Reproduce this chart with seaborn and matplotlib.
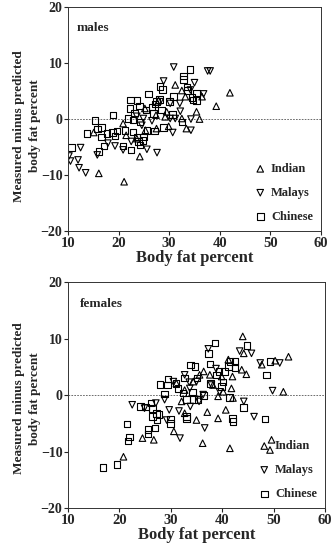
import matplotlib
matplotlib.use("Agg")
import matplotlib.pyplot as plt
import pandas as pd
import seaborn as sns

# ==========================================
# DATA
# ==========================================
male_indian_x = [15.1, 16.1, 21.1, 20.9, 24.2, 25.2, 25.3, 27.5, 29.5, 29.9, 31.2, 32.5, 33.2,
                 33.4, 35.4, 36.0, 36.5, 39.3, 42.0, 27.4, 27.9, 29.2, 23.6, 21.5, 32.5]
male_indian_y = [-2.4, -9.7, -11.2, -0.8, -6.7, 1.9, -2.0, -1.7, 1.3, -1.3, 6.1, 5.1, 4.0,
                 -1.7, 1.3, 0.0, 4.0, 2.3, 4.7, 0.7, 3.3, 0.4, -3.5, -2.9, 0.1]

male_malay_x = [10.2, 10.5, 12.5, 12.0, 12.2, 13.5, 15.8, 17.9, 19.3, 20.9, 22.5, 25.6, 27.6,
                28.9, 30.9, 30.7, 32.2, 32.1, 34.3, 34.3, 35.0, 36.8, 37.6, 38.1, 34.2, 28.2,
                30.2, 24.9, 26.6, 23.6, 24.6, 31.2, 30.2]
male_malay_y = [-6.6, -7.5, -5.1, -7.3, -8.7, -9.6, -6.4, -4.3, -4.8, -5.5, -4.0, -5.4, -6.0,
                6.8, 9.3, -2.4, 1.4, 2.8, -2.0, 0.0, 6.5, 4.5, 8.6, 8.6, 5.2, 3.1,
                2.8, 0.1, -0.3, 0.5, -1.1, 0.1, 0.1]

male_chinese_x = [10.7, 13.8, 15.3, 15.8, 16.1, 16.6, 16.6, 17.1, 17.7, 18.8, 18.9, 19.3, 19.7,
                  20.9, 21.3, 21.9, 22.3, 22.4, 22.5, 22.9, 23.2, 23.6, 24.1, 24.2, 25.4, 25.9,
                  26.6, 26.9, 27.1, 27.2, 27.5, 28.1, 28.2, 28.7, 28.5, 28.9, 30.1, 30.7, 30.9,
                  32.5, 32.8, 32.8, 33.5, 33.6, 34.1, 34.5, 34.7, 35.4, 35.4, 22.9, 23.6, 23.9,
                  24.2, 24.8, 24.9, 25.6]
male_chinese_y = [-5.1, -2.6, -0.3, -1.8, -5.8, -1.5, -3.2, -4.8, -2.6, -2.4, 0.7, -3.0, -2.1,
                  -4.8, -2.0, 0.1, 1.9, 3.4, -5.5, -0.2, 1.1, 3.3, 2.3, -0.5, 1.6, 4.5,
                  2.2, 1.0, -2.1, 2.7, 3.1, 3.5, 5.8, 5.3, 1.6, -1.5, 3.1, 0.8, 4.0,
                  -0.5, 7.7, 7.1, 5.7, 5.1, 8.9, 3.9, 3.4, 4.7, 3.3, -2.3, -3.2, -4.0,
                  -4.6, -3.8, -3.2, -2.0]

female_indian_x = [20.8, 24.5, 26.7, 30.6, 32.7, 32.7, 35.0, 36.2, 37.1, 36.4, 37.6, 39.2, 39.2,
                   39.9, 40.2, 40.7, 41.2, 41.5, 41.8, 42.0, 43.8, 44.0, 44.7, 44.2, 47.7, 49.3,
                   49.6, 50.3, 51.9, 52.9, 38.2, 42.1, 34.4, 32.1, 31.1, 35.6]
female_indian_y = [-10.9, -7.6, -7.9, -6.4, -3.2, 0.9, -4.4, -8.5, -3.0, 4.2, 3.6, -4.1, -0.2,
                   3.3, 0.6, -2.6, 6.3, -9.4, 1.2, 3.3, 4.5, 10.4, 3.7, 7.4, 5.4, -9.7,
                   -7.9, 6.1, 0.6, 6.8, 1.8, -0.5, 2.4, -1.1, 2.1, 3.6]

female_malay_x = [22.5, 24.9, 27.1, 28.8, 29.2, 29.7, 30.5, 31.6, 31.8, 32.7, 33.6, 33.8, 35.5,
                  36.6, 37.3, 37.9, 38.8, 39.5, 43.4, 44.2, 45.7, 46.2, 47.4, 51.2, 49.8, 33.7,
                  35.0, 36.3]
female_malay_y = [-1.7, -2.3, -1.4, -0.8, -4.4, -2.6, 2.4, -2.8, -7.6, 3.6, 2.3, -2.0, -1.1,
                  -5.8, 8.2, 1.8, 4.7, 0.6, 7.8, -1.1, 7.4, -3.8, 5.7, 5.7, 0.8, 1.2,
                  2.4, 0.1]

female_chinese_x = [16.8, 19.5, 21.5, 21.7, 22.0, 24.1, 25.1, 25.6, 25.6, 26.2, 26.4, 26.4, 26.9,
                    27.2, 27.3, 27.7, 27.9, 28.8, 29.4, 29.5, 29.9, 29.9, 31.0, 31.4, 32.4, 32.7,
                    33.1, 33.1, 33.1, 33.8, 34.2, 34.4, 34.7, 35.1, 35.3, 36.4, 37.3, 37.6, 37.7,
                    38.6, 38.9, 39.4, 39.9, 40.2, 41.2, 41.4, 41.5, 42.0, 42.1, 42.5, 42.5, 44.1,
                    44.8, 48.6, 48.3, 49.3, 40.5]
female_chinese_y = [-12.8, -12.3, -5.1, -8.1, -7.4, -2.0, -2.1, -6.1, -6.9, -1.4, -2.4, -3.8, -5.8,
                    -3.2, -4.4, -3.4, 1.9, 0.2, 1.8, 2.9, -4.2, -5.0, 2.1, 1.2, 0.4, 3.0,
                    -0.8, -3.8, -4.1, 5.3, 0.6, -0.8, 5.1, 3.0, -0.8, -0.1, 7.4, 5.5, 2.1,
                    9.2, 3.6, 4.2, 1.5, 2.3, 5.1, -0.4, 6.0, -4.1, -4.7, 6.0, 4.9, -2.2,
                    8.8, 3.6, -4.2, 6.0, 4.2]

groups = ["Indian", "Malays", "Chinese"]
markers = {"Indian": "^", "Malays": "v", "Chinese": "s"}
x_ticks = [10, 20, 30, 40, 50, 60]
y_ticks = [-20, -10, 0, 10, 20]


def make_frame(series):
    rows = []
    for name, (xs, ys) in zip(groups, series):
        rows += [{"fat": x, "diff": y, "group": name} for x, y in zip(xs, ys)]
    return pd.DataFrame(rows)


males = make_frame([(male_indian_x, male_indian_y),
                    (male_malay_x, male_malay_y),
                    (male_chinese_x, male_chinese_y)])
females = make_frame([(female_indian_x, female_indian_y),
                      (female_malay_x, female_malay_y),
                      (female_chinese_x, female_chinese_y)])

sns.set_theme(style="ticks")
plt.rcParams["font.family"] = ["Liberation Serif", "DejaVu Serif"]
plt.rcParams["font.weight"] = "bold"

fig = plt.figure(figsize=(3.33, 5.5), dpi=100)
ax_top = fig.add_axes([0.204, 0.58, 0.76, 0.407])
ax_bot = fig.add_axes([0.204, 0.076, 0.772, 0.411])


def draw_panel(ax, df, title, title_xy, label_y):
    for name in groups:
        sns.scatterplot(data=df[df["group"] == name], x="fat", y="diff",
                        marker=markers[name], s=22, facecolor="none",
                        edgecolor="black", linewidth=0.8, ax=ax, label=name)
    ax.axhline(0, color="#555555", linestyle=(0, (2, 1.5)), linewidth=0.6, zorder=0)
    ax.set_xlim(10, 60)
    ax.set_ylim(-20, 20)
    ax.set_xticks(x_ticks)
    ax.set_yticks(y_ticks)
    ax.tick_params(labelsize=10, length=3, width=0.8, pad=1)
    ax.tick_params(axis="x", labelsize=10.5)
    for lab in ax.get_xticklabels() + ax.get_yticklabels():
        lab.set_fontweight("bold")
    for sp in ax.spines.values():
        sp.set_linewidth(0.7)
        sp.set_color("#333333")
    ax.set_xlabel("Body fat percent", fontsize=12, fontweight="bold", labelpad=0)
    ax.set_ylabel("Measured minus predicted\nbody fat percent", fontsize=9.5,
                  fontweight="bold", linespacing=1.45)
    ax.yaxis.set_label_coords(-0.105, label_y)
    ax.text(title_xy[0], title_xy[1], title, fontsize=9.5, fontweight="bold")
    ax.legend(loc="lower right", frameon=False, labelspacing=0.95,
              handlelength=1.0, handletextpad=0.35, markerscale=1.0,
              borderaxespad=0.25, bbox_to_anchor=(1.0, 0.0),
              prop={"weight": "bold", "size": 9})


draw_panel(ax_top, males, "males", (11.8, 15.8), 0.47)
draw_panel(ax_bot, females, "females", (12.3, 15.6), 0.485)

fig.savefig("out.png", dpi=100)
